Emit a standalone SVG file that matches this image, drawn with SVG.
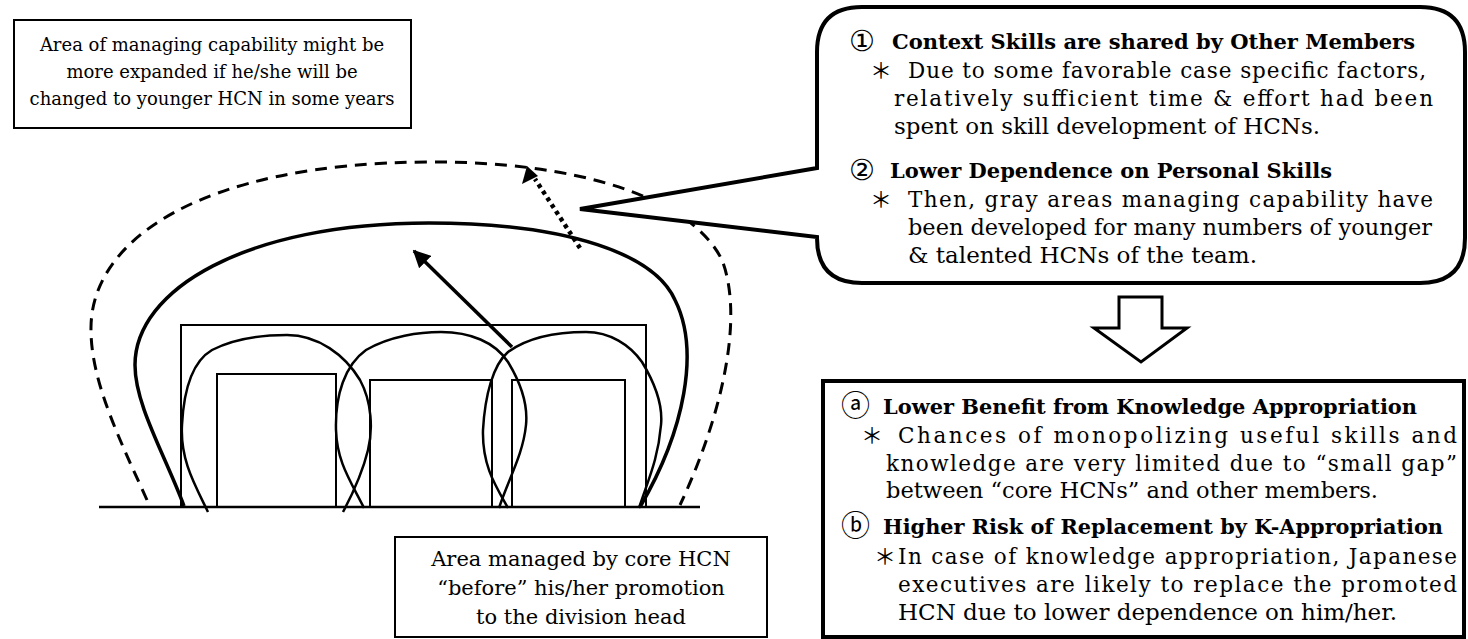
<svg xmlns="http://www.w3.org/2000/svg" width="1468" height="639" viewBox="0 0 1468 639">
  <style>
    text { font-family: "DejaVu Serif", "Noto Sans CJK JP", serif; fill: #000; }
    .note { font-size: 18px; text-anchor: middle; }
    .note2 { font-size: 21px; text-anchor: middle; }
    .body { font-size: 21.5px; }
    .head { font-size: 21px; font-weight: bold; }
    .mark { font-size: 29px; font-family: "DejaVu Sans", "Noto Sans CJK JP", sans-serif; }
    .star { font-size: 22px; font-family: "Noto Sans CJK JP", sans-serif; }
    .box { fill: #fff; stroke: #000; stroke-width: 2; }
    .thin { fill: none; stroke: #000; stroke-width: 2; }
    .loop { fill: none; stroke: #000; stroke-width: 2.5; }
    .outer { fill: none; stroke: #000; stroke-width: 3.5; }
    .dash { fill: none; stroke: #000; stroke-width: 3; stroke-dasharray: 12 8; }
    .dots { fill: none; stroke: #000; stroke-width: 4.5; stroke-dasharray: 4 4; }
    .solid { fill: none; stroke: #000; stroke-width: 3.5; }
  </style>
  <defs>
    <marker id="head" viewBox="0 0 10 10" refX="9" refY="5" markerWidth="5" markerHeight="5" markerUnits="strokeWidth" orient="auto">
      <path d="M0,0 L10,5 L0,10 z" fill="#000"/>
    </marker>
  </defs>

  <rect width="1468" height="639" fill="#fff"/>

  <!-- ground line, building frame and units -->
  <g id="structure">
    <line x1="99" y1="507" x2="700" y2="507" stroke="#000" stroke-width="2.5"/>
    <rect class="thin" x="181" y="325" width="465" height="182"/>
    <rect class="thin" x="217" y="374" width="119" height="133"/>
    <rect class="thin" x="370" y="380" width="122" height="127"/>
    <rect class="thin" x="512" y="380" width="113" height="127"/>
  </g>

  <!-- areas managed by each core HCN -->
  <g id="areas">
    <path class="loop" d="M208,512 C195,485 180,460 182,425 C184,385 195,360 212,350 C235,338 265,335 287,335 C318,335 345,355 360,380 C372,402 373,430 368,450 C362,475 352,495 343,512"/>
    <path class="loop" d="M364,508 C350,480 337,462 336,430 C335,395 345,365 366,350 C390,336 420,332 441,332 C470,332 495,342 508,362 C522,385 528,405 526,425 C523,455 508,480 499,508"/>
    <path class="loop" d="M508,508 C495,485 482,465 483,430 C485,395 493,365 508,352 C530,336 560,332 586,332 C610,332 630,345 642,362 C656,385 663,405 661,425 C658,460 648,480 639,508"/>
  </g>

  <!-- managing capability after promotion -->
  <g id="capability">
    <path class="outer" d="M184,506 C165,455 135,405 135,365 C135,290 245,223 429,223 C570,223 655,255 675,300 C700,350 685,430 640,507"/>
  </g>

  <!-- possible future expansion -->
  <g id="expansion">
    <path class="dash" d="M147,500 C120,440 90,380 91,327 C92,240 200,163 429,162 C570,161 690,195 722,260 C745,320 720,420 680,505"/>
  </g>

  <!-- connectors -->
  <g id="connectors">
    <line class="solid" x1="512" y1="347" x2="414" y2="251" marker-end="url(#head)"/>
    <path class="dots" d="M580,248 L535,179"/>
    <path d="M527,166 L522,184 L538,176 z" fill="#000"/>
    <!-- hollow block arrow -->
    <path d="M1119,297 L1162,297 L1162,328 L1187,328 L1141,362 L1094,328 L1119,328 z" fill="#fff" stroke="#000" stroke-width="3"/>
  </g>

  <!-- note: future capability -->
  <g id="note-future">
    <rect class="box" x="14" y="20" width="397" height="108"/>
    <text class="note" x="212" y="51">Area of managing capability might be</text>
    <text class="note" x="212" y="78">more expanded if he/she will be</text>
    <text class="note" x="212" y="105">changed to younger HCN in some years</text>
  </g>

  <!-- note: area before promotion -->
  <g id="note-before">
    <rect class="box" x="395" y="537" width="372" height="100"/>
    <text class="note2" x="581" y="566">Area managed by core HCN</text>
    <text class="note2" x="581" y="595">“before” his/her promotion</text>
    <text class="note2" x="581" y="624">to the division head</text>
  </g>

  <!-- callout: reasons -->
  <g id="callout">
    <path d="M862,7 L1420,7 Q1465,7 1465,52 L1465,238 Q1465,283 1420,283 L862,283 Q817,283 817,238 L817,237 L580,209 L817,168 L817,52 Q817,7 862,7 z" fill="#fff" stroke="#000" stroke-width="4" stroke-linejoin="miter"/>
    <text class="mark" x="849" y="51">①</text>
    <text class="head" x="892" y="49" textLength="523" lengthAdjust="spacingAndGlyphs">Context Skills are shared by Other Members</text>
    <text class="star" x="870" y="78">＊</text>
    <text class="body" x="908" y="78" textLength="518" lengthAdjust="spacing">Due to some favorable case specific factors,</text>
    <text class="body" x="894" y="106" textLength="539" lengthAdjust="spacing">relatively sufficient time &amp; effort had been</text>
    <text class="body" x="894" y="134" textLength="426" lengthAdjust="spacingAndGlyphs">spent on skill development of HCNs.</text>
    <text class="mark" x="849" y="180">②</text>
    <text class="head" x="890" y="178" textLength="442" lengthAdjust="spacingAndGlyphs">Lower Dependence on Personal Skills</text>
    <text class="star" x="870" y="207">＊</text>
    <text class="body" x="908" y="207" textLength="525" lengthAdjust="spacing">Then, gray areas managing capability have</text>
    <text class="body" x="908" y="235" textLength="524" lengthAdjust="spacingAndGlyphs">been developed for many numbers of younger</text>
    <text class="body" x="908" y="263" textLength="349" lengthAdjust="spacingAndGlyphs">&amp; talented HCNs of the team.</text>
  </g>

  <!-- result box: consequences -->
  <g id="result">
    <rect x="823" y="381" width="641" height="256" fill="#fff" stroke="#000" stroke-width="4"/>
    <text class="mark" x="841" y="416">ⓐ</text>
    <text class="head" x="883" y="414" textLength="534" lengthAdjust="spacingAndGlyphs">Lower Benefit from Knowledge Appropriation</text>
    <text class="star" x="861" y="443">＊</text>
    <text class="body" x="898" y="443" textLength="559" lengthAdjust="spacing">Chances of monopolizing useful skills and</text>
    <text class="body" x="886" y="471" textLength="571" lengthAdjust="spacing">knowledge are very limited due to “small gap”</text>
    <text class="body" x="886" y="498" textLength="492" lengthAdjust="spacingAndGlyphs">between “core HCNs” and other members.</text>
    <text class="mark" x="841" y="536">ⓑ</text>
    <text class="head" x="883" y="534" textLength="560" lengthAdjust="spacingAndGlyphs">Higher Risk of Replacement by K-Appropriation</text>
    <text class="star" x="874" y="564">＊</text>
    <text class="body" x="898" y="564" textLength="559" lengthAdjust="spacing">In case of knowledge appropriation, Japanese</text>
    <text class="body" x="898" y="592" textLength="559" lengthAdjust="spacing">executives are likely to replace the promoted</text>
    <text class="body" x="898" y="620" textLength="499" lengthAdjust="spacingAndGlyphs">HCN due to lower dependence on him/her.</text>
  </g>
</svg>
